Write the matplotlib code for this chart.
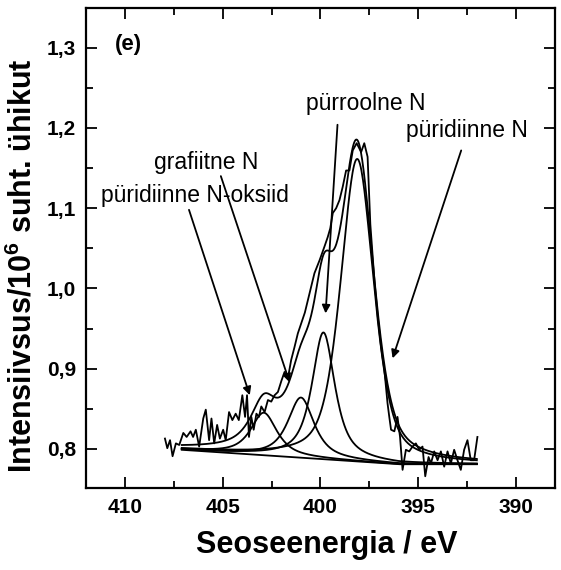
import numpy as np
import matplotlib
matplotlib.use("Agg")
import matplotlib.pyplot as plt
from matplotlib.ticker import MultipleLocator, FuncFormatter

plt.rcParams['font.family'] = ['Liberation Sans', 'DejaVu Sans']
plt.rcParams['mathtext.fontset'] = 'custom'
plt.rcParams['mathtext.bf'] = 'Liberation Sans:bold'
plt.rcParams['mathtext.rm'] = 'Liberation Sans:bold'
plt.rcParams['mathtext.default'] = 'bf'

# measured N1s spectrum (binding energy eV, intensity / 10^6)
spec_ev = [407.96, 407.84, 407.70, 407.57, 407.40, 407.23, 407.02, 406.85, 406.65, 406.52,
           406.38, 406.21, 406.00, 405.87, 405.70, 405.58, 405.44, 405.29, 405.15, 404.98,
           404.85, 404.68, 404.51, 404.34, 404.18, 404.00, 403.86, 403.76, 403.66, 403.54,
           403.42, 403.28, 403.15, 403.03, 402.86, 402.69, 402.52, 402.35, 402.18, 402.00,
           401.84, 401.67, 401.50, 401.33, 401.16, 400.98, 400.80, 400.56, 400.31, 400.05,
           399.80, 399.63, 399.50, 399.37, 399.20, 399.03, 398.86, 398.69, 398.52, 398.35,
           398.15, 397.92, 397.76, 397.59, 397.45, 397.24, 397.07, 396.90, 396.73, 396.57,
           396.48, 396.39, 396.22, 396.06, 395.93, 395.80, 395.63, 395.46, 395.29, 395.12,
           394.95, 394.78, 394.64, 394.47, 394.35, 394.18, 394.01, 393.84, 393.67, 393.50,
           393.33, 393.16, 392.99, 392.82, 392.65, 392.48, 392.31, 392.14, 391.97]
spec_int = [0.813, 0.801, 0.811, 0.791, 0.807, 0.805, 0.820, 0.815, 0.822, 0.815,
            0.824, 0.803, 0.838, 0.849, 0.811, 0.838, 0.807, 0.830, 0.813, 0.824,
            0.811, 0.846, 0.836, 0.844, 0.836, 0.867, 0.840, 0.867, 0.815, 0.840,
            0.824, 0.844, 0.840, 0.853, 0.846, 0.861, 0.859, 0.867, 0.871, 0.885,
            0.896, 0.888, 0.911, 0.927, 0.944, 0.957, 0.970, 0.994, 1.019, 1.035,
            1.052, 1.064, 1.075, 1.094, 1.100, 1.110, 1.127, 1.147, 1.147, 1.172,
            1.181, 1.170, 1.181, 1.164, 1.080, 1.010, 0.965, 0.927, 0.898, 0.857,
            0.840, 0.824, 0.822, 0.840, 0.815, 0.774, 0.799, 0.797, 0.803, 0.807,
            0.799, 0.803, 0.766, 0.790, 0.782, 0.797, 0.786, 0.797, 0.778, 0.797,
            0.782, 0.799, 0.786, 0.774, 0.799, 0.811, 0.786, 0.786, 0.815]

# fitted components: N-oxide, graphitic, pyrrolic, pyridinic
peak_center = [402.9, 401.0, 399.85, 398.12]
peak_height = [0.053, 0.075, 0.158, 0.377]
peak_fwhm = [1.6, 1.6, 1.4, 2.0]
peak_eta = [0.8, 0.8, 0.8, 0.5]

# background
bg_ev = [407.1, 396.0, 392.0]
bg_int = [0.799, 0.781, 0.781]

labels = ["püridiinne N-oksiid", "grafiitne N", "pürroolne N", "püridiinne N"]


def pvoigt(x, c, h, w, eta):
    g = np.exp(-4 * np.log(2) * ((x - c) / w) ** 2)
    l = 1.0 / (1 + 4 * ((x - c) / w) ** 2)
    return h * (eta * l + (1 - eta) * g)


fig = plt.figure(figsize=(5.61, 5.70), dpi=100)
ax = fig.add_axes([0.1533, 0.1433, 0.836, 0.842])

x = np.linspace(bg_ev[0], bg_ev[-1], 400)
bg = np.interp(x, bg_ev[::-1], bg_int[::-1])

ax.plot(spec_ev, spec_int, color='black', lw=1.3)

total = bg.copy()
for c, h, w, e in zip(peak_center, peak_height, peak_fwhm, peak_eta):
    comp = pvoigt(x, c, h, w, e)
    total += comp
    ax.plot(x, bg + comp, color='black', lw=1.3)
ax.plot(x, total, color='black', lw=1.3)
ax.plot(x, bg, color='black', lw=1.3)

# labels with arrows (text pos, arrow start, arrow tip)
text_pos = [(406.45, 1.116), (405.85, 1.157), (397.7, 1.231), (392.5, 1.197)]
arr_start = [(406.73, 1.098), (405.1, 1.140), (399.13, 1.204), (392.8, 1.172)]
arr_tip = [(403.62, 0.867), (401.58, 0.883), (399.74, 0.969), (396.31, 0.913)]

for lab, tp, s, t in zip(labels, text_pos, arr_start, arr_tip):
    ax.text(tp[0], tp[1], lab, fontsize=16.5, ha='center', va='center')
    ax.annotate('', xy=t, xytext=s,
                arrowprops=dict(arrowstyle='-|>', color='black', lw=1.3,
                                mutation_scale=12, shrinkA=0, shrinkB=0))

ax.text(0.09, 0.925, "(e)", transform=ax.transAxes, fontsize=16,
        fontweight='bold', ha='center', va='center')

ax.set_xlim(412, 388)
ax.set_ylim(0.751, 1.349)
ax.xaxis.set_major_locator(MultipleLocator(5))
ax.xaxis.set_minor_locator(MultipleLocator(2.5))
ax.yaxis.set_major_locator(MultipleLocator(0.1))
ax.yaxis.set_minor_locator(MultipleLocator(0.05))
ax.yaxis.set_major_formatter(FuncFormatter(lambda v, p: f"{v:.1f}".replace('.', ',')))
ax.xaxis.set_major_formatter(FuncFormatter(lambda v, p: f"{v:.0f}"))
ax.tick_params(which='both', direction='in', top=True, right=True, width=1.3)
ax.tick_params(which='major', length=8, labelsize=15, pad=7)
ax.tick_params(which='minor', length=5)
for lab in ax.get_xticklabels() + ax.get_yticklabels():
    lab.set_fontweight('bold')
for sp in ax.spines.values():
    sp.set_linewidth(1.6)

fig.text(327 / 561, 1 - 545 / 570, "Seoseenergia / eV", fontsize=22,
         fontweight='bold', ha='center', va='center')
fig.text(23 / 561, 1 - 266 / 570, "Intensiivsus/10$^6$ suht. ühikut", fontsize=22,
         fontweight='bold', ha='center', va='center', rotation=90)

fig.savefig("out.png", dpi=100)
